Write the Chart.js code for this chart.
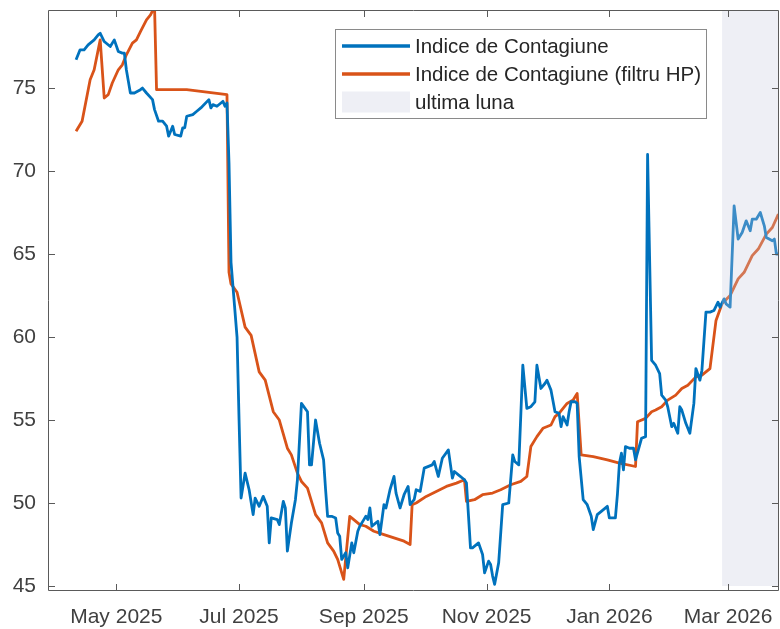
<!DOCTYPE html>
<html>
<head>
<meta charset="utf-8">
<script src="https://cdn.jsdelivr.net/npm/chart.js@4"></script>
<style>
  html, body { margin: 0; padding: 0; background: #ffffff; }
  #c { display: block; }
</style>
</head>
<body>
<canvas id="c" width="780" height="629"></canvas>
<script>
// ---------------- DATA ----------------
const seriesNames = ['Indice de Contagiune', 'Indice de Contagiune (filtru HP)', 'ultima luna'];

const tickDates  = ['2025-05-01', '2025-07-01', '2025-09-01', '2025-11-01', '2026-01-01', '2026-03-01'];
const tickLabels = ['May 2025', 'Jul 2025', 'Sep 2025', 'Nov 2025', 'Jan 2026', 'Mar 2026'];
const yTicks = [45, 50, 55, 60, 65, 70, 75];

const shadeStart = '2026-02-26';
const shadeBottom = 45;

const indexDates = [
  '2025-04-11','2025-04-13','2025-04-15','2025-04-17','2025-04-20','2025-04-22','2025-04-23','2025-04-25','2025-04-28','2025-04-30',
  '2025-05-02','2025-05-04','2025-05-05','2025-05-06','2025-05-07','2025-05-08','2025-05-10','2025-05-13','2025-05-14','2025-05-16',
  '2025-05-19','2025-05-20','2025-05-22','2025-05-24','2025-05-26','2025-05-27','2025-05-29','2025-05-30','2025-06-02','2025-06-03',
  '2025-06-04','2025-06-05','2025-06-08','2025-06-10','2025-06-12','2025-06-16','2025-06-17','2025-06-18','2025-06-20','2025-06-22',
  '2025-06-23','2025-06-24','2025-06-25','2025-06-26','2025-06-27','2025-06-28','2025-06-30','2025-07-01','2025-07-02','2025-07-04',
  '2025-07-06','2025-07-08','2025-07-09','2025-07-11','2025-07-13','2025-07-15','2025-07-16','2025-07-17','2025-07-20','2025-07-21',
  '2025-07-23','2025-07-24','2025-07-25','2025-07-27','2025-07-29','2025-07-30','2025-08-01','2025-08-04','2025-08-05','2025-08-06',
  '2025-08-08','2025-08-10','2025-08-12','2025-08-13','2025-08-14','2025-08-16','2025-08-18','2025-08-19','2025-08-20','2025-08-21',
  '2025-08-23','2025-08-24','2025-08-26','2025-08-27','2025-08-29','2025-08-30','2025-09-01','2025-09-02','2025-09-03','2025-09-04',
  '2025-09-05','2025-09-07','2025-09-08','2025-09-09','2025-09-11','2025-09-12','2025-09-14','2025-09-16','2025-09-17','2025-09-19',
  '2025-09-21','2025-09-23','2025-09-24','2025-09-26','2025-09-27','2025-09-29','2025-10-01','2025-10-05','2025-10-06','2025-10-08',
  '2025-10-10','2025-10-13','2025-10-15','2025-10-16','2025-10-18','2025-10-21','2025-10-22','2025-10-24','2025-10-25','2025-10-28',
  '2025-10-30','2025-10-31','2025-11-02','2025-11-03','2025-11-04','2025-11-05','2025-11-07','2025-11-09','2025-11-12','2025-11-14',
  '2025-11-15','2025-11-17','2025-11-19','2025-11-21','2025-11-23','2025-11-25','2025-11-26','2025-11-28','2025-11-30','2025-12-01',
  '2025-12-03','2025-12-05','2025-12-07','2025-12-08','2025-12-09','2025-12-11','2025-12-12','2025-12-13','2025-12-15','2025-12-16',
  '2025-12-17','2025-12-19','2025-12-21','2025-12-23','2025-12-24','2025-12-26','2025-12-28','2025-12-31','2026-01-01','2026-01-04',
  '2026-01-05','2026-01-06','2026-01-07','2026-01-08','2026-01-09','2026-01-11','2026-01-13','2026-01-14','2026-01-17','2026-01-19',
  '2026-01-20','2026-01-22','2026-01-24','2026-01-26','2026-01-27','2026-01-29','2026-01-30','2026-02-01','2026-02-02','2026-02-04',
  '2026-02-05','2026-02-06','2026-02-08','2026-02-10','2026-02-12','2026-02-13','2026-02-15','2026-02-16','2026-02-18','2026-02-20',
  '2026-02-22','2026-02-24','2026-02-25','2026-02-27','2026-02-28','2026-03-02','2026-03-04','2026-03-06','2026-03-08','2026-03-10',
  '2026-03-12','2026-03-13','2026-03-15','2026-03-17','2026-03-19','2026-03-20','2026-03-23','2026-03-24','2026-03-25','2026-03-26'
];
const indexValues = [
  76.7,77.3,77.3,77.6,77.9,78.2,78.3,77.8,77.5,77.9,
  77.2,77.1,77.1,76.1,75.4,74.7,74.7,74.9,75.0,74.7,
  74.3,73.7,73.0,73.0,72.7,72.1,72.7,72.2,72.1,72.6,
  72.6,73.3,73.4,73.6,73.8,74.3,73.8,74.0,73.9,74.1,
  74.2,73.9,74.1,70.5,64.5,63.0,60.0,55.0,50.3,51.8,
  50.8,49.3,50.3,49.8,50.4,49.8,47.6,49.1,49.0,48.7,
  50.1,49.7,47.1,48.8,50.2,51.4,56.0,55.5,52.3,52.3,
  55.0,53.6,52.6,50.8,49.2,49.2,49.1,48.2,48.0,46.6,
  47.0,46.1,47.6,47.0,48.3,48.6,49.0,49.2,49.0,49.7,
  48.6,48.8,48.9,48.1,49.9,49.7,50.8,51.6,50.6,49.7,
  50.5,51.0,49.9,50.2,50.8,50.7,52.1,52.3,52.5,51.6,
  52.7,53.2,51.5,51.9,51.7,51.4,51.2,47.3,47.3,47.6,
  46.9,45.8,46.5,46.3,45.6,45.1,46.4,49.9,50.0,52.9,
  52.5,52.3,58.3,55.7,55.8,56.1,58.3,56.9,57.2,57.4,
  56.8,55.5,55.4,54.6,55.2,54.7,55.5,56.1,56.1,56.0,
  52.8,50.2,49.9,49.2,48.4,49.3,49.5,49.8,49.1,49.1,
  50.5,52.4,53.0,52.0,53.4,53.3,53.3,52.6,53.9,54.0,
  71.0,58.6,58.3,57.8,56.5,56.2,55.8,54.6,54.8,54.2,
  55.8,55.6,54.8,54.2,56.0,58.1,57.4,58.0,61.5,61.5,
  61.6,62.1,61.8,62.3,62.0,61.8,67.9,65.9,66.3,67.0,
  66.4,67.1,67.1,67.5,66.7,66.0,65.8,65.9,65.0,65.0
];

const hpDates = [
  '2025-04-11','2025-04-14','2025-04-18','2025-04-20','2025-04-23','2025-04-25','2025-04-27','2025-04-29','2025-05-02','2025-05-04',
  '2025-05-06','2025-05-09','2025-05-11','2025-05-13','2025-05-16','2025-05-18','2025-05-20','2025-05-21','2025-06-05','2025-06-25',
  '2025-06-26','2025-06-27','2025-06-30','2025-07-04','2025-07-07','2025-07-11','2025-07-14','2025-07-18','2025-07-21','2025-07-25',
  '2025-07-27','2025-07-30','2025-08-01','2025-08-04','2025-08-08','2025-08-11','2025-08-14','2025-08-17','2025-08-19','2025-08-22',
  '2025-08-25','2025-08-27','2025-08-30','2025-09-02','2025-09-06','2025-09-11','2025-09-16','2025-09-21','2025-09-24','2025-09-25',
  '2025-09-27','2025-10-02','2025-10-07','2025-10-12','2025-10-17','2025-10-21','2025-10-22','2025-10-26','2025-10-30','2025-11-04',
  '2025-11-08','2025-11-13','2025-11-18','2025-11-21','2025-11-23','2025-11-26','2025-11-29','2025-12-03','2025-12-05','2025-12-07',
  '2025-12-11','2025-12-14','2025-12-16','2025-12-18','2025-12-24','2025-12-31','2026-01-06','2026-01-14','2026-01-15','2026-01-19',
  '2026-01-22','2026-01-24','2026-01-27','2026-01-30','2026-02-03','2026-02-06','2026-02-09','2026-02-13','2026-02-16','2026-02-20',
  '2026-02-23','2026-02-26','2026-03-02','2026-03-06','2026-03-09','2026-03-13','2026-03-16','2026-03-20','2026-03-23','2026-03-26'
];
const hpValues = [
  72.4,73.0,75.5,76.1,77.9,74.4,74.6,75.3,76.1,76.4,
  77.0,77.7,77.9,78.4,79.1,79.4,79.9,74.9,74.9,74.6,
  63.9,63.2,62.7,60.6,60.1,57.9,57.4,55.5,55.0,53.3,
  52.9,51.8,51.3,50.9,49.3,48.8,47.6,47.1,46.6,45.4,
  49.2,49.0,48.7,48.6,48.3,48.1,47.9,47.7,47.5,49.9,
  50.0,50.4,50.7,51.0,51.2,51.4,50.1,50.2,50.5,50.6,
  50.8,51.1,51.3,51.6,53.4,54.0,54.5,54.7,55.2,55.4,
  56.0,56.2,56.6,52.9,52.8,52.6,52.4,52.2,54.9,55.1,
  55.5,55.6,55.8,56.2,56.5,56.9,57.1,57.6,57.7,58.1,
  61.0,62.0,62.5,63.5,63.9,64.9,65.3,66.2,66.6,67.4
];

// ---------------- HELPERS ----------------
function dayNum(s) {
  const p = s.split('-');
  return Date.UTC(+p[0], +p[1] - 1, +p[2]) / 86400000;
}
function toPoints(dates, values) {
  return dates.map((d, i) => ({ x: dayNum(d), y: values[i] }));
}

const FONT = '"Liberation Sans", Arial, Helvetica, sans-serif';
const BLUE = '#0072BD';
const ORANGE = '#D95319';
const SHADE_RGBA = 'rgba(198,202,222,0.3)';
const SHADE_SOLID = '#eeeff5';
const AXIS = '#5a5a5a';

const xMin = dayNum('2025-05-01') - 33.94;
const xMax = dayNum('2025-05-01') + 329.3;

// ---------------- PLUGINS ----------------
const shadePlugin = {
  id: 'shade',
  afterDatasetsDraw(chart) {
    const { ctx, chartArea, scales } = chart;
    const x0 = scales.x.getPixelForValue(dayNum(shadeStart));
    const yb = scales.y.getPixelForValue(shadeBottom);
    ctx.save();
    ctx.fillStyle = SHADE_RGBA;
    ctx.fillRect(x0, chartArea.top, chartArea.right - x0, yb - chartArea.top);
    ctx.restore();
  }
};

const boxPlugin = {
  id: 'box',
  afterDraw(chart) {
    const { ctx, chartArea: a, scales } = chart;
    ctx.save();
    ctx.strokeStyle = AXIS;
    ctx.lineWidth = 1;
    ctx.beginPath();
    ctx.rect(Math.round(a.left) + 0.5, Math.round(a.top) + 0.5,
             Math.round(a.right - a.left) - 1, Math.round(a.bottom - a.top) - 1);
    ctx.stroke();
    const tl = 7;
    ctx.beginPath();
    scales.x.ticks.forEach(t => {
      const px = Math.round(scales.x.getPixelForValue(t.value)) + 0.5;
      ctx.moveTo(px, a.bottom); ctx.lineTo(px, a.bottom - tl);
      ctx.moveTo(px, a.top); ctx.lineTo(px, a.top + tl);
    });
    scales.y.ticks.forEach(t => {
      const py = Math.round(scales.y.getPixelForValue(t.value)) + 0.5;
      ctx.moveTo(a.left, py); ctx.lineTo(a.left + tl, py);
      ctx.moveTo(a.right, py); ctx.lineTo(a.right - tl, py);
    });
    ctx.stroke();
    ctx.restore();
  }
};

const legendPlugin = {
  id: 'customLegend',
  afterDraw(chart) {
    const { ctx } = chart;
    const bx = 335.5, by = 29.5, bw = 371, bh = 89;
    ctx.save();
    ctx.fillStyle = '#ffffff';
    ctx.fillRect(bx, by, bw, bh);
    ctx.strokeStyle = '#8a8a8a';
    ctx.lineWidth = 1;
    ctx.strokeRect(bx, by, bw, bh);
    const rows = [46, 74, 102];
    const sx0 = 342, sx1 = 410, tx = 415;
    const colors = [BLUE, ORANGE];
    for (let i = 0; i < 2; i++) {
      ctx.strokeStyle = colors[i];
      ctx.lineWidth = 3.5;
      ctx.beginPath();
      ctx.moveTo(sx0, rows[i]); ctx.lineTo(sx1, rows[i]);
      ctx.stroke();
    }
    ctx.fillStyle = SHADE_SOLID;
    ctx.fillRect(sx0, rows[2] - 10.5, sx1 - sx0, 21);
    ctx.fillStyle = '#262626';
    ctx.font = '20.5px ' + FONT;
    ctx.textBaseline = 'middle';
    ctx.textAlign = 'left';
    for (let i = 0; i < 3; i++) {
      ctx.fillText(seriesNames[i], tx, rows[i] + 1);
    }
    ctx.restore();
  }
};

// ---------------- CHART ----------------
const ctx = document.getElementById('c').getContext('2d');
new Chart(ctx, {
  type: 'line',
  data: {
    datasets: [
      {
        label: seriesNames[0],
        data: toPoints(indexDates, indexValues),
        borderColor: BLUE,
        borderWidth: 2.8,
        pointRadius: 0,
        tension: 0,
        fill: false,
        clip: 0,
        borderJoinStyle: 'round'
      },
      {
        label: seriesNames[1],
        data: toPoints(hpDates, hpValues),
        borderColor: ORANGE,
        borderWidth: 2.8,
        pointRadius: 0,
        tension: 0,
        fill: false,
        clip: 0,
        borderJoinStyle: 'round'
      }
    ]
  },
  options: {
    responsive: false,
    animation: false,
    devicePixelRatio: 1,
    layout: { padding: { left: 0, right: 1, top: 10, bottom: 0 } },
    plugins: {
      legend: { display: false },
      tooltip: { enabled: false },
      title: { display: false }
    },
    scales: {
      x: {
        type: 'linear',
        min: xMin,
        max: xMax,
        afterBuildTicks(scale) {
          scale.ticks = tickDates.map(d => ({ value: dayNum(d) }));
        },
        afterFit(scale) {
          scale.height = 38;
          scale.paddingLeft = 0; scale.paddingRight = 0;
          scale.paddingTop = 0; scale.paddingBottom = 0;
        },
        grid: { display: false, drawTicks: false },
        border: { display: false },
        ticks: {
          autoSkip: false,
          maxRotation: 0,
          minRotation: 0,
          padding: 14,
          color: '#404040',
          font: { family: FONT, size: 21 },
          callback(value, index) { return tickLabels[index]; }
        }
      },
      y: {
        type: 'linear',
        min: 44.7,
        max: 79.7,
        afterBuildTicks(scale) {
          scale.ticks = yTicks.map(v => ({ value: v }));
        },
        afterFit(scale) {
          scale.width = 48;
          scale.paddingLeft = 0; scale.paddingRight = 0;
          scale.paddingTop = 0; scale.paddingBottom = 0;
        },
        grid: { display: false, drawTicks: false },
        border: { display: false },
        ticks: {
          padding: 12,
          color: '#404040',
          font: { family: FONT, size: 21 },
          callback(value) { return String(value); }
        }
      }
    }
  },
  plugins: [shadePlugin, boxPlugin, legendPlugin]
});
</script>
</body>
</html>
